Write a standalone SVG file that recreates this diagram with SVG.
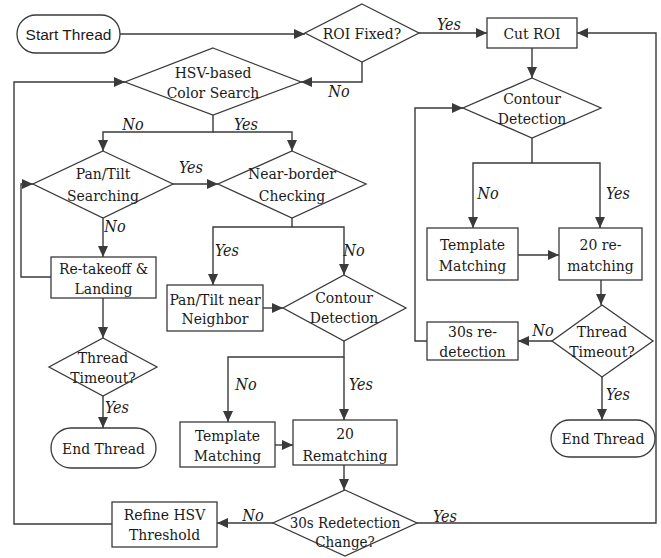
<svg xmlns="http://www.w3.org/2000/svg" width="661" height="558" viewBox="0 0 661 558">
  <defs>
    <marker id="arrow" markerUnits="userSpaceOnUse" markerWidth="12" markerHeight="10" refX="11" refY="5" orient="auto">
      <path d="M0,0 L11,5 L0,10 Z" fill="#3a3a3a"/>
    </marker>
    <style>
      .shape { fill: #ffffff; stroke: #3a3a3a; stroke-width: 1.3; }
      .wire { fill: none; stroke: #3a3a3a; stroke-width: 1.4; }
      .wire.arr { marker-end: url(#arrow); }
      .t { font-family: "DejaVu Serif Condensed", "DejaVu Serif", serif; font-stretch: condensed; font-size: 15.5px; fill: #1a1a1a; text-anchor: middle; }
      .s { font-family: "Liberation Sans", "DejaVu Sans", sans-serif; font-size: 15.5px; fill: #1a1a1a; text-anchor: middle; }
      .lbl { font-family: "DejaVu Serif Condensed", "DejaVu Serif", serif; font-stretch: condensed; font-style: italic; font-size: 16px; fill: #1a1a1a; text-anchor: middle; }
    </style>
  </defs>
  <rect width="661" height="558" fill="#ffffff"/>

  <!-- connectors -->
  <g id="connectors">
    <path class="wire arr" d="M120,34 H305"/>
    <path class="wire arr" d="M419,33 H487"/>
    <path class="wire arr" d="M362,62 V82 H301"/>
    <path class="wire arr" d="M532,48 V78"/>
    <path class="wire arr" d="M213,115 V132 H103 V151"/>
    <path class="wire arr" d="M213,132 H292 V151"/>
    <path class="wire arr" d="M173,184 H218"/>
    <path class="wire arr" d="M103,218 V257"/>
    <path class="wire arr" d="M51,277 H21 V184 H33"/>
    <path class="wire arr" d="M103,298 V338"/>
    <path class="wire arr" d="M103,396 V428"/>
    <path class="wire arr" d="M292,218 V227 H213 V285"/>
    <path class="wire arr" d="M292,227 H344 V275"/>
    <path class="wire arr" d="M263,308 H283"/>
    <path class="wire arr" d="M344,341 V357 H228 V422"/>
    <path class="wire arr" d="M344,357 V420"/>
    <path class="wire arr" d="M275,445 H293"/>
    <path class="wire arr" d="M344,465 V490"/>
    <path class="wire arr" d="M273,523 H217"/>
    <path class="wire arr" d="M112,524 H14 V82 H125"/>
    <path class="wire arr" d="M417,523 H656 V33 H577"/>
    <path class="wire arr" d="M532,138 V163 H473 V228"/>
    <path class="wire arr" d="M532,163 H600 V228"/>
    <path class="wire arr" d="M518,255 H559"/>
    <path class="wire arr" d="M601,280 V305"/>
    <path class="wire arr" d="M552,341 H518"/>
    <path class="wire arr" d="M427,341 H415 V108 H463"/>
    <path class="wire arr" d="M602,377 V420"/>

    <!-- branch labels -->
    <text class="lbl" x="449" y="30">Yes</text>
    <text class="lbl" x="339" y="97">No</text>
    <text class="lbl" x="133" y="130">No</text>
    <text class="lbl" x="246" y="130">Yes</text>
    <text class="lbl" x="191" y="173">Yes</text>
    <text class="lbl" x="115" y="232">No</text>
    <text class="lbl" x="227" y="256">Yes</text>
    <text class="lbl" x="354" y="256">No</text>
    <text class="lbl" x="488" y="199">No</text>
    <text class="lbl" x="618" y="199">Yes</text>
    <text class="lbl" x="543" y="336">No</text>
    <text class="lbl" x="618" y="400">Yes</text>
    <text class="lbl" x="117" y="413">Yes</text>
    <text class="lbl" x="246" y="390">No</text>
    <text class="lbl" x="361" y="390">Yes</text>
    <text class="lbl" x="253" y="521">No</text>
    <text class="lbl" x="445" y="522">Yes</text>
  </g>

  <!-- left / middle branch -->
  <g id="start-thread">
    <rect class="shape" x="17" y="15" width="103" height="38" rx="19"/>
    <text class="s" x="68.5" y="39.5">Start Thread</text>
  </g>
  <g id="roi-fixed">
    <polygon class="shape" points="362,4 419,33 362,62 305,33"/>
    <text class="t" x="362" y="38.5">ROI Fixed?</text>
  </g>
  <g id="hsv-search">
    <polygon class="shape" points="213,48 301,82 213,115 125,82"/>
    <text class="t" x="213" y="77.5">HSV-based</text>
    <text class="t" x="213" y="97.5">Color Search</text>
  </g>
  <g id="pan-tilt-searching">
    <polygon class="shape" points="103,151 173,184 103,218 33,184"/>
    <text class="t" x="103" y="178.5">Pan/Tilt</text>
    <text class="t" x="103" y="200.5">Searching</text>
  </g>
  <g id="near-border">
    <polygon class="shape" points="292,151 366,184 292,218 218,184"/>
    <text class="t" x="292" y="178.5">Near-border</text>
    <text class="t" x="292" y="200.5">Checking</text>
  </g>
  <g id="retakeoff">
    <rect class="shape" x="51" y="257" width="105" height="41"/>
    <text class="t" x="103.5" y="273.5">Re-takeoff &amp;</text>
    <text class="t" x="103.5" y="293.5">Landing</text>
  </g>
  <g id="timeout-left">
    <polygon class="shape" points="103,338 157,367 103,396 49,367"/>
    <text class="t" x="103" y="362.5">Thread</text>
    <text class="t" x="103" y="382.5">Timeout?</text>
  </g>
  <g id="end-left">
    <rect class="shape" x="51" y="428" width="105" height="40" rx="20"/>
    <text class="t" x="103.5" y="453.5">End Thread</text>
  </g>
  <g id="pan-tilt-neighbor">
    <rect class="shape" x="167" y="285" width="96" height="46"/>
    <text class="t" x="215" y="304.5">Pan/Tilt near</text>
    <text class="t" x="215" y="323.5">Neighbor</text>
  </g>
  <g id="contour-mid">
    <polygon class="shape" points="344,275 406,308 344,341 283,308"/>
    <text class="t" x="344" y="303">Contour</text>
    <text class="t" x="344" y="323">Detection</text>
  </g>
  <g id="template-left">
    <rect class="shape" x="180" y="422" width="95" height="45"/>
    <text class="t" x="227.5" y="440.5">Template</text>
    <text class="t" x="227.5" y="460.5">Matching</text>
  </g>
  <g id="rematching-mid">
    <rect class="shape" x="293" y="420" width="104" height="45"/>
    <text class="t" x="345" y="438.5">20</text>
    <text class="t" x="345" y="460.5">Rematching</text>
  </g>
  <g id="redetection-change">
    <polygon class="shape" points="345,490 417,523 345,556 273,523"/>
    <text class="t" x="345" y="527.5" style="font-size:15px">30s Redetection</text>
    <text class="t" x="345" y="546.5" style="font-size:15px">Change?</text>
  </g>
  <g id="refine-hsv">
    <rect class="shape" x="112" y="502" width="105" height="45"/>
    <text class="t" x="164.5" y="519.5">Refine HSV</text>
    <text class="t" x="164.5" y="539.5">Threshold</text>
  </g>

  <!-- right branch -->
  <g id="cut-roi">
    <rect class="shape" x="487" y="18" width="90" height="30"/>
    <text class="t" x="532" y="38.5">Cut ROI</text>
  </g>
  <g id="contour-right">
    <polygon class="shape" points="532,78 601,108 532,138 463,108"/>
    <text class="t" x="532" y="103.5">Contour</text>
    <text class="t" x="532" y="123.5">Detection</text>
  </g>
  <g id="template-right">
    <rect class="shape" x="427" y="228" width="91" height="52"/>
    <text class="t" x="472.5" y="249.5">Template</text>
    <text class="t" x="472.5" y="270.5">Matching</text>
  </g>
  <g id="rematching-right">
    <rect class="shape" x="559" y="228" width="83" height="52"/>
    <text class="t" x="600.5" y="249.5">20 re-</text>
    <text class="t" x="600.5" y="270.5">matching</text>
  </g>
  <g id="timeout-right">
    <polygon class="shape" points="602,305 653,341 602,377 552,341"/>
    <text class="t" x="602" y="336.5">Thread</text>
    <text class="t" x="602" y="356.5">Timeout?</text>
  </g>
  <g id="redetection-right">
    <rect class="shape" x="427" y="322" width="91" height="38"/>
    <text class="t" x="472.5" y="336.5">30s re-</text>
    <text class="t" x="472.5" y="356.5">detection</text>
  </g>
  <g id="end-right">
    <rect class="shape" x="551" y="420" width="104" height="37" rx="18.5"/>
    <text class="t" x="603" y="443.5">End Thread</text>
  </g>
</svg>
